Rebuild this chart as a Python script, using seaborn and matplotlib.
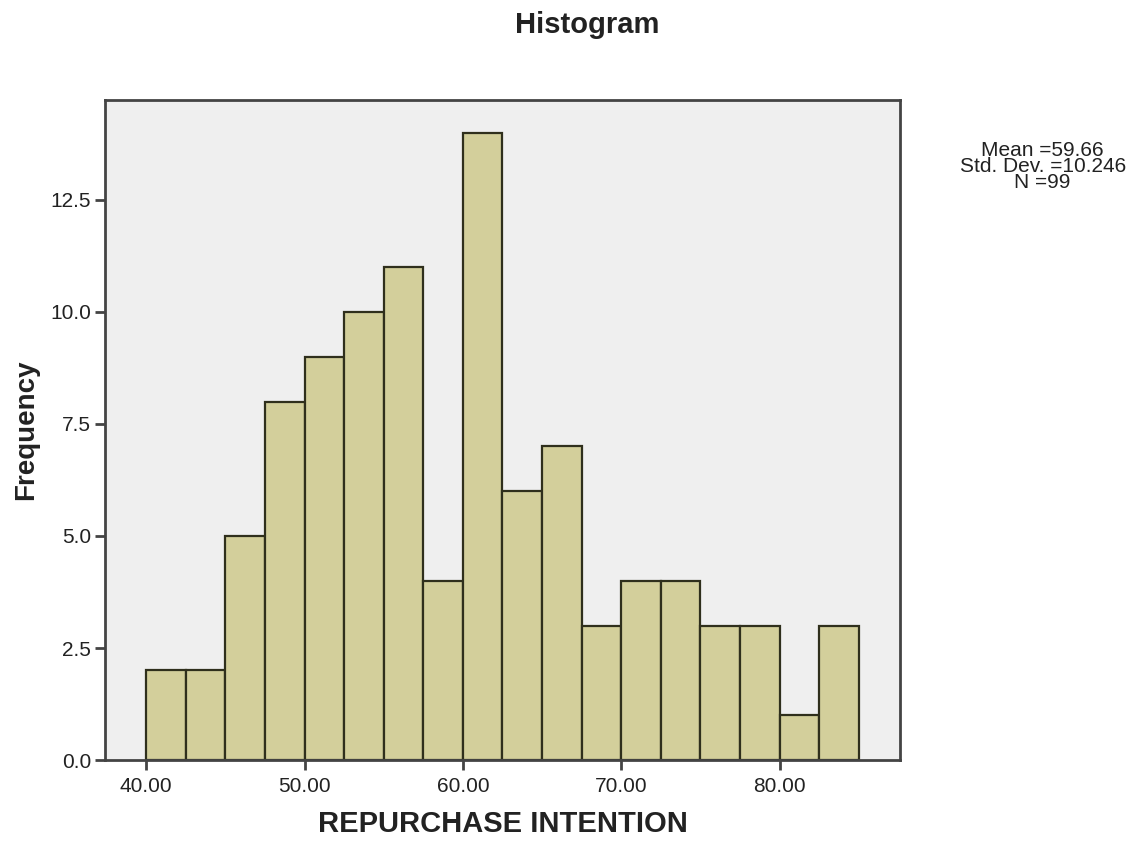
import numpy as np
import pandas as pd
import matplotlib
matplotlib.use("Agg")
import matplotlib.pyplot as plt
import seaborn as sns

# bins of REPURCHASE INTENTION (width 2.5) and their frequencies
bin_edges = [40.0, 42.5, 45.0, 47.5, 50.0, 52.5, 55.0, 57.5, 60.0, 62.5,
             65.0, 67.5, 70.0, 72.5, 75.0, 77.5, 80.0, 82.5, 85.0]
frequency = [2, 2, 5, 8, 9, 10, 11, 4, 14, 6, 7, 3, 4, 4, 3, 3, 1, 3]
x_ticks = [40, 50, 60, 70, 80]
y_ticks = [0.0, 2.5, 5.0, 7.5, 10.0, 12.5]
stats_text = "Mean =59.66\nStd. Dev. =10.246\nN =99"

df = pd.DataFrame({
    "mid": [(a + b) / 2 for a, b in zip(bin_edges[:-1], bin_edges[1:])],
    "count": frequency,
})

sns.set_style("white")
plt.rcParams["font.family"] = ["Liberation Sans", "DejaVu Sans"]
text_col = "#222222"

fig = plt.figure(figsize=(11.42, 8.44), dpi=100)
ax = fig.add_axes([0.092, 0.0995, 0.696, 0.782])
ax.set_facecolor("#efefef")

sns.histplot(data=df, x="mid", weights="count", bins=bin_edges, ax=ax,
             color="#d3cf9b", alpha=1, edgecolor="#2f2f1c", linewidth=1.6)

ax.set_xlim(37.4, 87.6)
ax.set_ylim(0, 14.73)
ax.set_xticks(x_ticks)
ax.set_xticklabels([f"{t:.2f}" for t in x_ticks])
ax.set_yticks(y_ticks)
ax.set_yticklabels([f"{t:.1f}" for t in y_ticks])
ax.tick_params(axis="both", direction="out", length=7, width=2,
               bottom=True, left=True,
               color="#444444", labelsize=15, labelcolor=text_col, pad=3)
ax.tick_params(axis="x", pad=5)
for s in ax.spines.values():
    s.set_color("#444444")
    s.set_linewidth(2)

ax.set_xlabel("REPURCHASE INTENTION", fontsize=21, fontweight="bold",
              color=text_col, labelpad=10)
ax.set_ylabel("Frequency", fontsize=20, fontweight="bold",
              color=text_col, labelpad=8)

fig.text(0.514, 0.97, "Histogram", ha="center", va="center",
         fontsize=21, fontweight="bold", color=text_col)
fig.text(0.913, 0.803, stats_text, ha="center", va="center",
         fontsize=15, color=text_col, linespacing=0.8)

fig.savefig("out.png", dpi=100)
